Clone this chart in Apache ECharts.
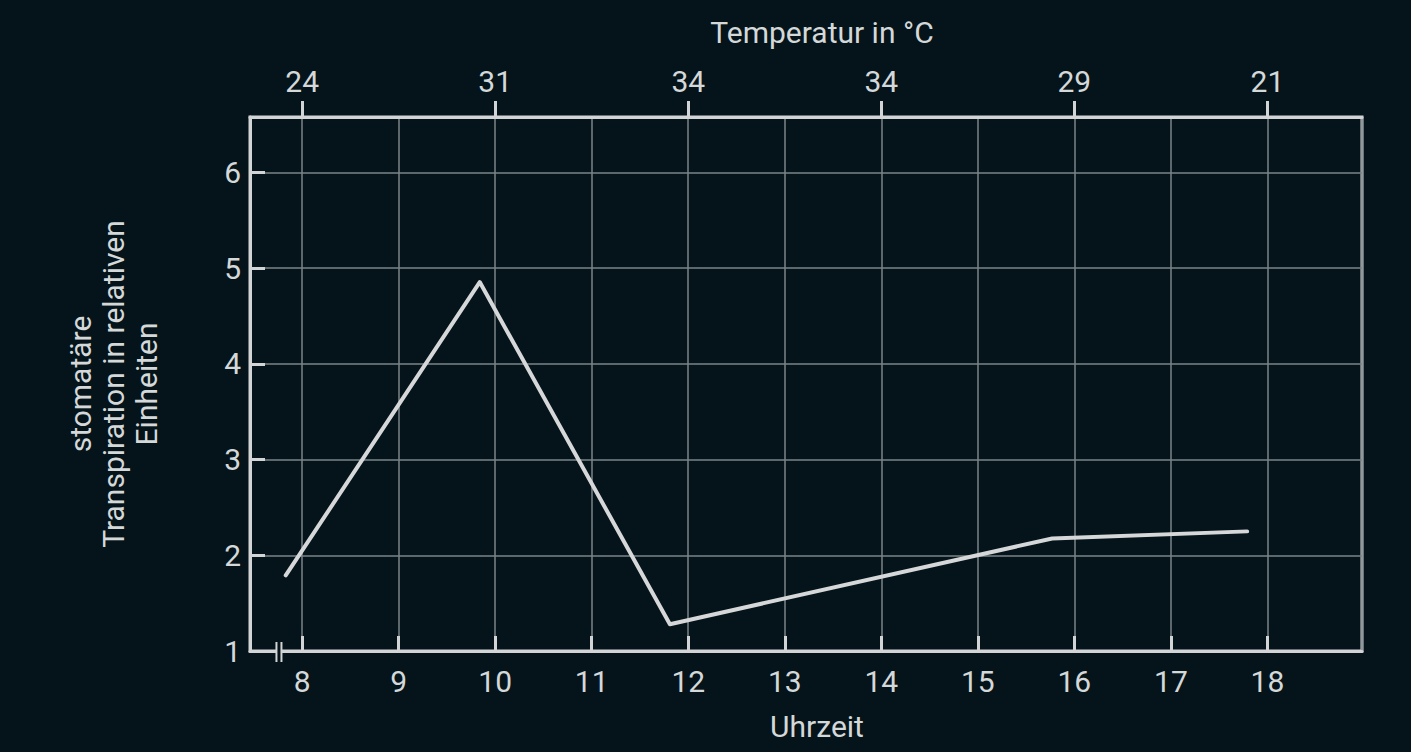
<!DOCTYPE html>
<html>
<head>
<meta charset="utf-8">
<script src="https://cdn.jsdelivr.net/npm/echarts@6/dist/echarts.min.js"></script>
<style>
html,body{margin:0;padding:0;background:#04141a;}
#c{width:1411px;height:752px;}
</style>
</head>
<body>
<div id="c"></div>
<script>
// Data
var hours = [7.83, 9.84, 11.81, 15.77, 17.79];
var transpiration = [1.79, 4.855, 1.28, 2.176, 2.25];
var tempHours = [8, 10, 12, 14, 16, 18];
var temperatures = [24, 31, 34, 34, 29, 21];
var xTitle = 'Uhrzeit';
var topTitle = 'Temperatur in °C';
var yTitle = 'stomatäre\nTranspiration in relativen\nEinheiten';

var txt = '#d5d8d9';
var frame = '#d2d4d5';
var gridCol = '#7b8588';
var bg = '#04141a';
var font = 'Roboto';

var chart = echarts.init(document.getElementById('c'), null, {renderer: 'svg'});
var option = {
  backgroundColor: bg,
  animation: false,
  grid: {
    left: 250, right: 49, top: 117, bottom: 101,
    show: true, borderColor: frame, borderWidth: 3, backgroundColor: 'transparent'
  },
  xAxis: [{
    type: 'value', position: 'bottom',
    min: 7.46, max: 18.98, minInterval: 1, maxInterval: 1,
    name: xTitle, nameLocation: 'middle', nameGap: 60,
    nameTextStyle: {color: txt, fontSize: 30, fontFamily: font, padding: [0, 0, 0, 22]},
    axisLine: {show: true, lineStyle: {color: frame, width: 3}},
    axisTick: {show: true, inside: true, length: 15, lineStyle: {color: frame, width: 3}},
    axisLabel: {color: txt, fontSize: 30, fontFamily: font, margin: 15, showMinLabel: false, showMaxLabel: false},
    splitLine: {show: true, lineStyle: {color: gridCol, width: 1.5}}
  }, {
    type: 'value', position: 'top',
    min: 7.46, max: 18.98, minInterval: 2, maxInterval: 2,
    axisLine: {show: true, lineStyle: {color: frame, width: 3}},
    axisTick: {show: true, inside: false, length: 16, lineStyle: {color: frame, width: 3}},
    axisLabel: {
      color: txt, fontSize: 30, fontFamily: font, margin: 21, showMinLabel: false, showMaxLabel: false,
      formatter: function (v) {
        var i = tempHours.indexOf(Math.round(v));
        return (i >= 0 && Math.abs(v - Math.round(v)) < 1e-6) ? String(temperatures[i]) : '';
      }
    },
    splitLine: {show: false}
  }],
  yAxis: [{
    type: 'value', min: 1, max: 6.58, interval: 1,
    name: yTitle, nameLocation: 'middle', nameGap: 87, nameRotate: 90,
    nameTextStyle: {color: txt, fontSize: 30, fontFamily: font, lineHeight: 33, align: 'center'},
    axisLine: {show: true, lineStyle: {color: frame, width: 3}},
    axisTick: {show: true, inside: true, length: 15, lineStyle: {color: frame, width: 3}},
    axisLabel: {color: txt, fontSize: 30, fontFamily: font, margin: 9, showMaxLabel: false},
    splitLine: {show: true, lineStyle: {color: gridCol, width: 1.5}}
  }],
  title: {
    text: topTitle, left: 817, top: 12, textAlign: 'center',
    textStyle: {color: txt, fontSize: 30, fontFamily: font, fontWeight: 'normal'}
  },
  series: [{
    type: 'line',
    data: hours.map(function (h, i) { return [h, transpiration[i]]; }),
    symbol: 'none',
    lineStyle: {color: '#d6d7d8', width: 4, cap: 'round', join: 'round'},
    z: 5
  }]
};
chart.setOption(option);

// axis break mark on the bottom axis
var bx = chart.convertToPixel({xAxisIndex: 0}, 7.76);
var by = chart.convertToPixel({yAxisIndex: 0}, 1);
chart.setOption({
  graphic: [
    {type: 'rect', shape: {x: bx - 2, y: by - 3, width: 4, height: 6}, style: {fill: bg}, z: 100},
    {type: 'line', shape: {x1: bx - 2.5, y1: by - 9, x2: bx - 2.5, y2: by + 11}, style: {stroke: frame, lineWidth: 2}, z: 101},
    {type: 'line', shape: {x1: bx + 2.5, y1: by - 9, x2: bx + 2.5, y2: by + 11}, style: {stroke: frame, lineWidth: 2}, z: 101}
  ]
});
</script>
</body>
</html>
